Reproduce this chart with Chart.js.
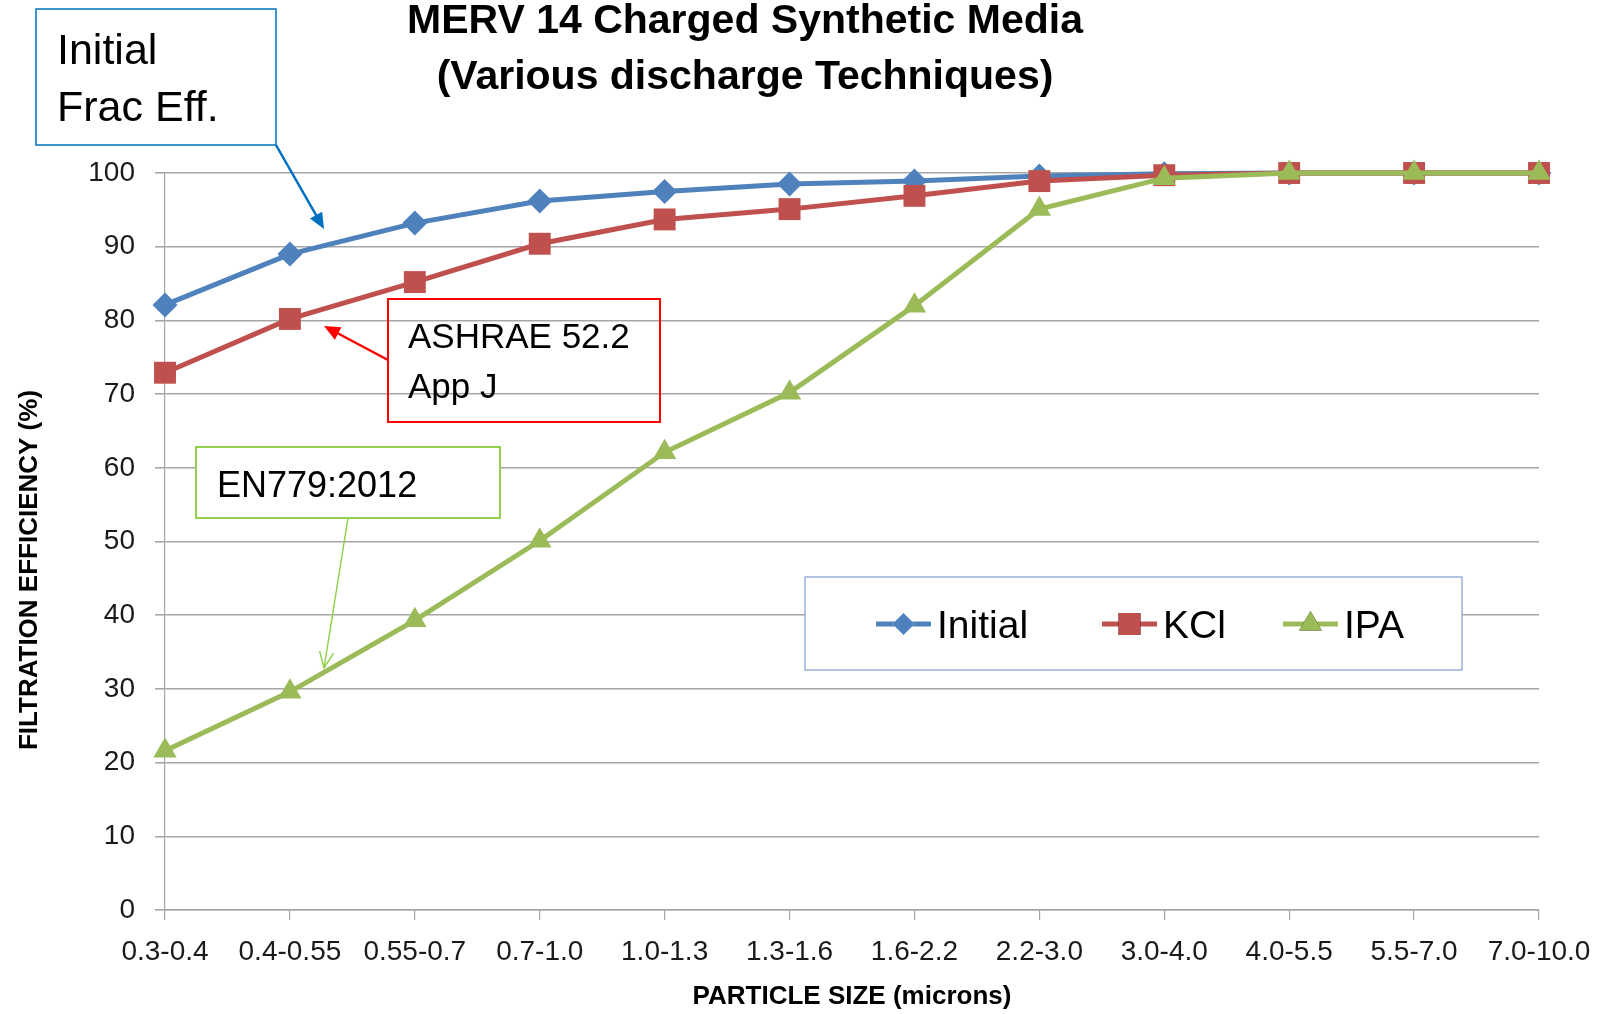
<!DOCTYPE html>
<html>
<head>
<meta charset="utf-8">
<script src="https://cdn.jsdelivr.net/npm/chart.js@4"></script>
<style>
  html, body { margin: 0; padding: 0; background: #fff; }
  #wrap { width: 1612px; height: 1014px; }
</style>
</head>
<body>
<div id="wrap"><canvas id="filterChart" width="1612" height="1014"></canvas></div>
<script>
const sizes = ['0.3-0.4', '0.4-0.55', '0.55-0.7', '0.7-1.0', '1.0-1.3', '1.3-1.6',
               '1.6-2.2', '2.2-3.0', '3.0-4.0', '4.0-5.5', '5.5-7.0', '7.0-10.0'];
const initialEff = [82.1, 89.0, 93.2, 96.2, 97.5, 98.5, 98.9, 99.6, 99.9, 100, 100, 100];
const kclEff = [72.9, 80.2, 85.2, 90.4, 93.7, 95.1, 96.9, 98.9, 99.7, 100, 100, 100];
const ipaEff = [21.6, 29.6, 39.3, 50.1, 62.1, 70.2, 82.0, 95.1, 99.3, 100, 100, 100];
const yTicks = [0, 10, 20, 30, 40, 50, 60, 70, 80, 90, 100];

const FONT = "'Liberation Sans', Arial, sans-serif";

function arrow(ctx, x1, y1, x2, y2, color, width, open) {
  const ang = Math.atan2(y2 - y1, x2 - x1);
  const len = 16, half = 7;
  ctx.save();
  ctx.strokeStyle = color;
  ctx.fillStyle = color;
  ctx.lineWidth = width;
  ctx.beginPath();
  ctx.moveTo(x1, y1);
  if (open) ctx.lineTo(x2, y2);
  else ctx.lineTo(x2 - Math.cos(ang) * len * 0.8, y2 - Math.sin(ang) * len * 0.8);
  ctx.stroke();
  const bx = x2 - Math.cos(ang) * len, by = y2 - Math.sin(ang) * len;
  const px = -Math.sin(ang) * half, py = Math.cos(ang) * half;
  ctx.beginPath();
  ctx.moveTo(bx + px, by + py);
  ctx.lineTo(x2, y2);
  ctx.lineTo(bx - px, by - py);
  if (open) { ctx.stroke(); } else { ctx.closePath(); ctx.fill(); }
  ctx.restore();
}

function textBox(ctx, x, y, w, h, color, lw, fill, lines, size, tx, baselines) {
  ctx.save();
  if (fill) { ctx.fillStyle = '#fff'; ctx.fillRect(x, y, w, h); }
  ctx.strokeStyle = color;
  ctx.lineWidth = lw;
  ctx.strokeRect(x, y, w, h);
  ctx.fillStyle = '#000';
  ctx.font = size + 'px ' + FONT;
  ctx.textAlign = 'left';
  ctx.textBaseline = 'alphabetic';
  lines.forEach((t, i) => ctx.fillText(t, tx, baselines[i]));
  ctx.restore();
}

const extras = {
  id: 'extras',
  afterDraw(chart) {
    const ctx = chart.ctx;
    ctx.save();
    // title
    ctx.fillStyle = '#000';
    ctx.font = 'bold 41px ' + FONT;
    ctx.textAlign = 'center';
    ctx.textBaseline = 'alphabetic';
    ctx.fillText('MERV 14 Charged Synthetic Media', 745, 33);
    ctx.fillText('(Various discharge Techniques)', 745, 89);

    // y axis title
    ctx.save();
    ctx.translate(30, 570);
    ctx.rotate(-Math.PI / 2);
    ctx.font = 'bold 26px ' + FONT;
    ctx.textBaseline = 'middle';
    ctx.fillText('FILTRATION EFFICIENCY (%)', 0, 0);
    ctx.restore();

    // callouts
    textBox(ctx, 36, 9, 240, 136, '#0070C0', 1.5, false, ['Initial', 'Frac Eff.'], 43, 57, [64, 121]);
    arrow(ctx, 276, 145, 324, 229, '#0070C0', 2.5, false);

    textBox(ctx, 388, 299, 272, 123, '#FF0000', 2, false, ['ASHRAE 52.2', 'App J'], 35, 408, [348, 398]);
    arrow(ctx, 388, 360, 324, 326, '#FF0000', 2.5, false);

    textBox(ctx, 196, 447, 304, 71, '#92D050', 2, true, ['EN779:2012'], 36, 217, [497]);
    arrow(ctx, 348, 518, 324, 668, '#92D050', 1.5, true);

    // legend
    ctx.fillStyle = '#fff';
    ctx.fillRect(805, 577, 657, 93);
    ctx.strokeStyle = '#7F9FCF';
    ctx.lineWidth = 1.2;
    ctx.strokeRect(805, 577, 657, 93);
    const starts = [876, 1102, 1283];
    chart.data.datasets.forEach((ds, i) => {
      const x0 = starts[i], y = 624;
      ctx.strokeStyle = ds.borderColor;
      ctx.lineWidth = 5;
      ctx.beginPath();
      ctx.moveTo(x0, y);
      ctx.lineTo(x0 + 55, y);
      ctx.stroke();
      Chart.helpers.drawPoint(ctx, {
        pointStyle: ds.pointStyle, radius: ds.legendRadius, rotation: 0, borderWidth: 0
      }, x0 + 27.5, y);
      ctx.fillStyle = ds.backgroundColor;
      ctx.fill();
      ctx.fillStyle = '#000';
      ctx.font = '39px ' + FONT;
      ctx.textAlign = 'left';
      ctx.textBaseline = 'alphabetic';
      ctx.fillText(ds.label, x0 + 61, y + 14);
    });
    ctx.restore();
  }
};

new Chart(document.getElementById('filterChart'), {
  type: 'line',
  data: {
    labels: sizes,
    datasets: [
      {
        label: 'Initial', data: initialEff, order: 3,
        borderColor: '#4F81BD', backgroundColor: '#4F81BD', borderWidth: 5,
        pointStyle: 'rectRot', pointRadius: 12.5, legendRadius: 11,
        pointBackgroundColor: '#4F81BD', pointBorderWidth: 0, clip: false, tension: 0
      },
      {
        label: 'KCl', data: kclEff, order: 2,
        borderColor: '#C0504D', backgroundColor: '#C0504D', borderWidth: 5,
        pointStyle: 'rect', pointRadius: 15.5, legendRadius: 15.5,
        pointBackgroundColor: '#C0504D', pointBorderWidth: 0, clip: false, tension: 0
      },
      {
        label: 'IPA', data: ipaEff, order: 1,
        borderColor: '#9BBB59', backgroundColor: '#9BBB59', borderWidth: 5,
        pointStyle: 'triangle', pointRadius: 13.5, legendRadius: 13,
        pointBackgroundColor: '#9BBB59', pointBorderWidth: 0, clip: false, tension: 0
      }
    ]
  },
  options: {
    responsive: false,
    animation: false,
    events: [],
    layout: { padding: { top: 173, right: 73, left: 0, bottom: 0 } },
    plugins: {
      legend: { display: false },
      title: { display: false },
      tooltip: { enabled: false }
    },
    scales: {
      x: {
        offset: false,
        afterFit: s => { s.height = 104; },
        grid: { drawOnChartArea: false, drawTicks: true, tickLength: 10, color: '#A6A6A6', lineWidth: 1.2 },
        border: { display: true, color: '#A6A6A6', width: 1.5 },
        ticks: {
          autoSkip: false, maxRotation: 0, minRotation: 0, padding: 15,
          color: '#1a1a1a', font: { family: FONT, size: 28 }
        },
        title: {
          display: true, text: 'PARTICLE SIZE (microns)', color: '#000',
          font: { family: FONT, size: 26, weight: 'bold' }, padding: { top: 0, bottom: 2 }
        }
      },
      y: {
        min: 0, max: 100,
        afterFit: s => { s.width = 165; },
        afterBuildTicks: s => { s.ticks = yTicks.map(v => ({ value: v })); },
        grid: { color: '#A6A6A6', lineWidth: 1.6, tickLength: 10, drawTicks: true },
        border: { display: true, color: '#A6A6A6', width: 1.2 },
        ticks: { padding: 20, color: '#1a1a1a', font: { family: FONT, size: 28 } }
      }
    }
  },
  plugins: [extras]
});
</script>
</body>
</html>
